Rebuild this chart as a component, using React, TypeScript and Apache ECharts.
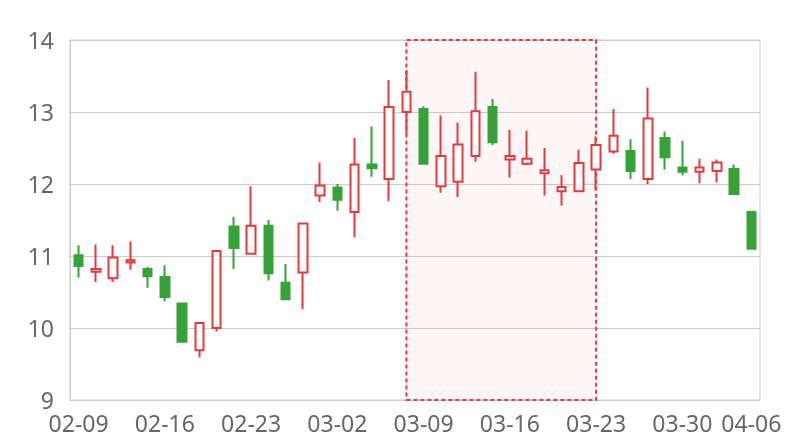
import React, { useEffect, useRef } from "react";
import * as echarts from "echarts";

const dates = [
  "02-09", "02-10", "02-11", "02-12", "02-13",
  "02-16", "02-17", "02-18", "02-19", "02-20",
  "02-23", "02-24", "02-25", "02-26", "02-27",
  "03-02", "03-03", "03-04", "03-05", "03-06",
  "03-09", "03-10", "03-11", "03-12", "03-13",
  "03-16", "03-17", "03-18", "03-19", "03-20",
  "03-23", "03-24", "03-25", "03-26", "03-27",
  "03-30", "03-31", "04-01", "04-02", "04-06",
];

const opens = [
  11.01, 10.78, 10.69, 10.91, 10.82,
  10.71, 10.34, 9.69, 10.0, 11.41,
  11.03, 11.42, 10.63, 10.77, 11.84,
  11.95, 11.61, 12.27, 12.07, 13.0,
  13.04, 11.97, 12.03, 12.39, 13.07,
  12.34, 12.28, 12.15, 11.9, 11.9,
  12.2, 12.45, 12.46, 12.07, 12.64,
  12.23, 12.17, 12.18, 12.21, 11.61,
];

const closes = [
  10.86, 10.82, 10.98, 10.94, 10.72,
  10.43, 9.81, 10.07, 11.07, 11.11,
  11.42, 10.76, 10.4, 11.45, 11.98,
  11.78, 12.27, 12.22, 13.07, 13.28,
  12.28, 12.39, 12.55, 13.01, 12.58,
  12.39, 12.35, 12.19, 11.96, 12.29,
  12.54, 12.67, 12.18, 12.91, 12.37,
  12.17, 12.23, 12.3, 11.86, 11.1,
];

const lows = [
  10.7, 10.64, 10.64, 10.81, 10.56,
  10.37, 9.81, 9.59, 9.95, 10.82,
  11.03, 10.66, 10.4, 10.26, 11.75,
  11.63, 11.26, 12.1, 11.76, 12.69,
  12.28, 11.88, 11.82, 12.31, 12.54,
  12.09, 12.26, 11.84, 11.7, 11.9,
  11.92, 12.42, 12.07, 12.0, 12.2,
  12.12, 12.01, 12.02, 11.86, 11.1,
];

const highs = [
  11.15, 11.16, 11.15, 11.2, 10.85,
  10.87, 10.35, 10.07, 11.08, 11.54,
  11.97, 11.5, 10.89, 11.46, 12.3,
  12.0, 12.64, 12.8, 13.44, 13.58,
  13.08, 12.95, 12.85, 13.56, 13.18,
  12.75, 12.74, 12.5, 12.12, 12.48,
  12.66, 13.04, 12.62, 13.34, 12.73,
  12.6, 12.35, 12.34, 12.27, 11.61,
];

const tickLabels = ["02-09", "02-16", "02-23", "03-02", "03-09", "03-16", "03-23", "03-30", "04-06"];

const highlightRange = ["03-06", "03-23"];

const RED = "#e53a3d";
const GREEN = "#37a237";

export default function App() {
  const ref = useRef<HTMLDivElement>(null);

  useEffect(() => {
    if (!ref.current) return;
    const chart = echarts.init(ref.current, null, { renderer: "svg" });
    const data = dates.map((_, i) => [opens[i], closes[i], lows[i], highs[i]]);
    chart.setOption({
      animation: false,
      grid: {
        left: 70,
        right: 40,
        top: 40,
        bottom: 40,
        show: true,
        borderColor: "#cccccc",
        borderWidth: 1,
      },
      xAxis: {
        type: "category",
        data: dates,
        boundaryGap: true,
        axisLine: { lineStyle: { color: "#cccccc" } },
        axisTick: { show: false },
        axisLabel: {
          color: "#666666",
          fontSize: 23,
          lineHeight: 22,
          fontFamily: "Noto Sans",
          margin: 12,
          interval: (_idx: number, value: string) => tickLabels.includes(value),
        },
        splitLine: { show: false },
      },
      yAxis: {
        type: "value",
        min: 9,
        max: 14,
        interval: 1,
        axisLine: { show: true, lineStyle: { color: "#cccccc" } },
        axisTick: { show: false },
        axisLabel: {
          color: "#666666",
          fontSize: 23,
          lineHeight: 16,
          fontFamily: "Noto Sans",
          margin: 16,
        },
        splitLine: { lineStyle: { color: "#cccccc" } },
      },
      series: [
        {
          type: "candlestick",
          data,
          barWidth: 9,
          itemStyle: {
            color: "#ffffff",
            color0: GREEN,
            borderColor: RED,
            borderColor0: GREEN,
            borderWidth: 2,
          },
          markArea: {
            silent: true,
            itemStyle: {
              color: "rgba(229, 58, 61, 0.04)",
              borderColor: RED,
              borderWidth: 2,
              borderType: [4, 3],
            },
            data: [[{ xAxis: highlightRange[0] }, { xAxis: highlightRange[1] }]],
          },
        },
      ],
    });
    return () => chart.dispose();
  }, []);

  return (
    <div
      ref={ref}
      style={{ position: "fixed", left: 0, top: 0, width: 800, height: 440 }}
    />
  );
}
